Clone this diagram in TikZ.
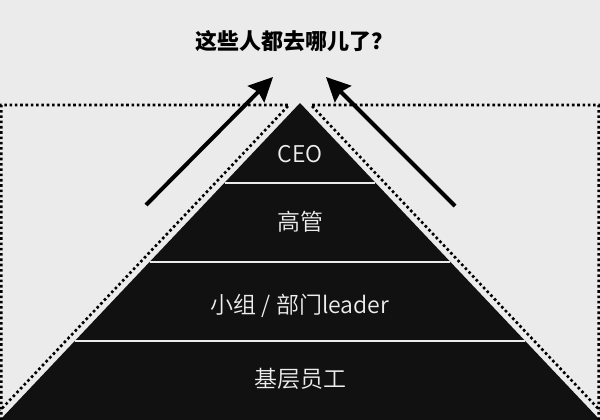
\documentclass[tikz,border=0pt]{standalone}
\usepackage{fontspec}
\setmainfont{Noto Sans CJK SC}
\IfFontExistsTF{Noto Sans CJK SC DemiLight}{\newfontfamily\lightcjk{Noto Sans CJK SC DemiLight}}{\newfontfamily\lightcjk{Noto Sans CJK SC}}
\usetikzlibrary{arrows.meta,calc}
\definecolor{bg}{HTML}{EBEBEB}
\definecolor{pyr}{HTML}{111111}
\definecolor{txt}{HTML}{EEEEEE}
\tikzset{
  dotline/.style={draw=black, line width=2.6pt, dash pattern=on 2.6pt off 2.7pt},
  sepline/.style={draw=bg, line width=2pt},
  bigarrow/.style={draw=black, line width=4pt, -{Stealth[length=24pt,width=23pt,inset=3pt]}},
  label/.style={text=txt, font=\lightcjk\fontsize{23}{23}\selectfont, inner sep=0pt, anchor=base},
  titlestyle/.style={text=black, font=\bfseries\fontsize{22}{22}\selectfont, inner sep=0pt, anchor=base}
}
\begin{document}
\begin{tikzpicture}[x=1pt,y=-1pt]
  \fill[bg] (0,0) rectangle (600,420);
  \useasboundingbox (0,0) rectangle (600,420);
  % pyramid
  \coordinate (apex) at (300,103);
  \coordinate (bl) at (0,420);
  \coordinate (br) at (600,420);
  \fill[pyr] (apex) -- (br) -- (bl) -- cycle;
  % band separators
  \foreach \t/\n in {0.2508/a,0.5016/b,0.7508/c}{
    \coordinate (l\n) at ($(apex)!\t!(bl)$);
    \coordinate (r\n) at ($(apex)!\t!(br)$);
    \draw[sepline] (l\n) -- (r\n);
  }
  % dotted outlines
  \coordinate (d1) at (1.3,420);
  \coordinate (d2) at (1.3,105);
  \coordinate (d3) at (289,105);
  \coordinate (d4) at (0,410.5);
  \draw[dotline] (d1) -- (d2) -- (d3) -- (d4);
  \coordinate (e1) at (598.7,420);
  \coordinate (e2) at (598.7,105);
  \coordinate (e3) at (311,105);
  \coordinate (e4) at (600,410.5);
  \draw[dotline] (e1) -- (e2) -- (e3) -- (e4);
  % arrows
  \coordinate (lat) at (146,205);
  \coordinate (lah) at (273,77);
  \coordinate (rat) at (455,206);
  \coordinate (rah) at (326,77);
  \draw[bigarrow] (lat) -- (lah);
  \draw[bigarrow] (rat) -- (rah);
  % texts
  \node[titlestyle] (title) at (294,49.5) {这些人都去哪儿了？};
  \node[label] (ceo) at (300,162.5) {CEO};
  \node[label] (gg) at (300,230.7) {高管};
  \node[label] (ld) at (300,313.7) {小组 / 部门leader};
  \node[label] (jc) at (300,387.7) {基层员工};
\end{tikzpicture}
\end{document}
